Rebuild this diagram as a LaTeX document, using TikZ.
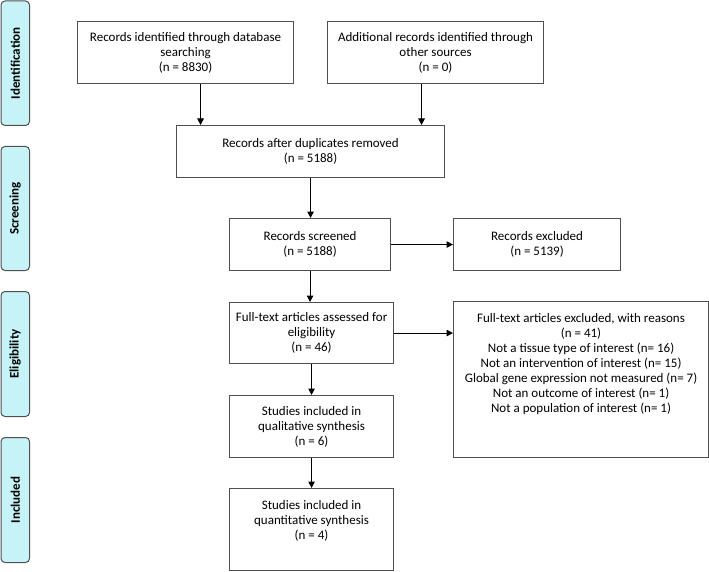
\documentclass[tikz,border=0pt]{standalone}
\usepackage{fontspec}
\setmainfont{Carlito}
\usetikzlibrary{arrows.meta}
\definecolor{stagecyan}{RGB}{197,243,248}
\definecolor{edgegray}{RGB}{80,80,80}
\tikzset{
  stage/.style={draw=edgegray, fill=stagecyan, rounded corners=4pt, line width=1pt,
    minimum width=28.5pt, anchor=north west, inner sep=0pt, font=\fontsize{13}{15}\selectfont\bfseries},
  box/.style={draw=edgegray, line width=1.1pt, anchor=north west, inner sep=0pt,
    align=center},
  boxtext/.style={align=center, anchor=north, inner sep=0pt},
  flow/.style={-{Triangle[length=6.5pt,width=6.5pt]}, line width=1pt},
}

\begin{document}
\begin{tikzpicture}[x=1pt, y=-1pt, font=\fontsize{13}{15}\selectfont]
\useasboundingbox (0,0) rectangle (709,572);
% stages
\node[stage, minimum height=124.5pt] (ident) at (0.5,0.5) {\rotatebox{90}{Identification}};
\node[stage, minimum height=124pt] (screen) at (0.5,146) {\rotatebox{90}{Screening}};
\node[stage, minimum height=125pt] (elig) at (0.5,291) {\rotatebox{90}{Eligibility}};
\node[stage, minimum height=125pt] (incl) at (0.5,437) {\rotatebox{90}{Included}};
% boxes
\node[box, minimum width=216pt, minimum height=62pt] (dbrec) at (77,21)
  {Records identified through database\\searching\\(n = 8830)};
\node[box, minimum width=216pt, minimum height=62pt] (otherrec) at (327,21)
  {Additional records identified through\\other sources\\(n = 0)};
\node[box, minimum width=268pt, minimum height=52pt] (dedup) at (176,125)
  {Records after duplicates removed\\(n = 5188)};
\node[box, minimum width=161pt, minimum height=52pt] (screened) at (229,218)
  {Records screened\\(n = 5188)};
\node[box, minimum width=167pt, minimum height=52pt] (excl) at (453,218)
  {Records excluded\\(n = 5139)};
\node[box, minimum width=164pt, minimum height=61pt] (fulltext) at (229,302)
  {Full-text articles assessed for\\eligibility\\(n = 46)};
\node[box, minimum width=255pt, minimum height=156pt] (ftexcl) at (453,301) {};
\node[boxtext] (ftexcl-t) at ([yshift=-12pt]ftexcl.north)
  {Full-text articles excluded, with reasons\\(n = 41)\\Not a tissue type of interest (n= 16)\\Not an intervention of interest (n= 15)\\Global gene expression not measured (n= 7)\\Not an outcome of interest (n= 1)\\Not a population of interest (n= 1)};
\node[box, minimum width=164pt, minimum height=62pt] (qual) at (229,395)
  {Studies included in\\qualitative synthesis\\(n = 6)};
\node[box, minimum width=164pt, minimum height=82pt] (quant) at (229,488) {};
\node[boxtext] (quant-t) at ([yshift=-12pt]quant.north)
  {Studies included in\\quantitative synthesis\\(n = 4)};
% arrows
\draw[flow] ([xshift=15pt]dbrec.south) -- ([xshift=15pt]dbrec.south |- dedup.north);
\draw[flow] ([xshift=-14pt]otherrec.south) -- ([xshift=-14pt]otherrec.south |- dedup.north);
\draw[flow] (dedup.south) -- (dedup.south |- screened.north);
\draw[flow] (screened.east) -- (excl.west);
\draw[flow] (screened.south) -- (screened.south |- fulltext.north);
\draw[flow] (fulltext.east) -- (fulltext.east -| ftexcl.west);
\draw[flow] (fulltext.south) -- (fulltext.south |- qual.north);
\draw[flow] (qual.south) -- (qual.south |- quant.north);
\end{tikzpicture}
\end{document}
